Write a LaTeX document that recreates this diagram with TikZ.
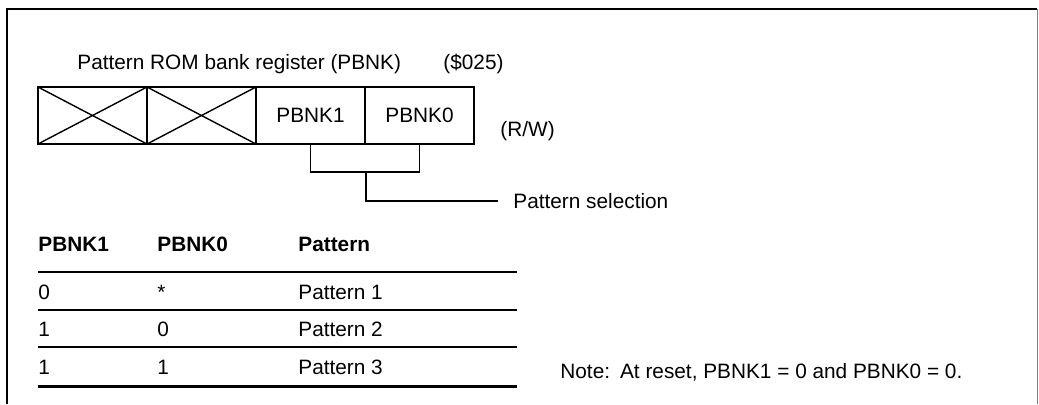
\documentclass[tikz,border=0pt]{standalone}
\usepackage{fontspec}
\setmainfont{Liberation Sans}
\tikzset{
  txt/.style={font=\fontsize{10.4}{12.5}\selectfont, inner sep=0pt},
  hdr/.style={txt, font=\fontsize{10.4}{12.5}\selectfont\bfseries},
  regcell/.style={draw, line width=1.2pt, outer sep=0pt, inner sep=0pt,
    minimum width=54.5pt, minimum height=28.5pt, txt},
  rule/.style={line width=1pt}
}
\begin{document}
\begin{tikzpicture}[x=0.5pt, y=-0.5pt]
      \useasboundingbox (0,0) rectangle (1039,404);
      % frame
      \draw[line width=1pt] (7,404) -- (7,9) -- (1037,9);
      \draw[gray, line width=0.5pt] (1037,9) -- (1037,404);
      % register
      \node[txt, anchor=base west] (title) at (77,69) {Pattern ROM bank register (PBNK)};
      \node[txt, anchor=base west] (addr) at (443,69) {(\$025)};
      \foreach[count=\i from 0] \lab in {{},{},PBNK1,PBNK0}{
        \node[regcell] (c\i) at (92.5+109*\i,115.5) {\lab};
      }
      \foreach \i in {0,1}{
        \draw[line width=0.7pt] (c\i.north west) -- (c\i.south east)
          (c\i.south west) -- (c\i.north east);
      }
      \node[txt, anchor=base west] (rw) at (500,136) {(R/W)};
      % selection bracket
      \coordinate (brk) at (366,172);
      \node[txt, anchor=west, inner xsep=7.5pt] (sel) at (498,201) {Pattern selection};
      \draw[line width=0.8pt] (c2.south) |- (brk) -| (c3.south);
      \draw[line width=0.8pt] (brk) |- (sel.west);
      % table
      \foreach \x/\t [count=\j] in {38/PBNK1,157/PBNK0,298/Pattern}{
        \node[hdr, anchor=base west] (h\j) at (\x,251) {\t};
      }
      \foreach \yy/\a/\b/\c [count=\r] in {299/0/*/Pattern 1,336/1/0/Pattern 2,374/1/1/Pattern 3}{
        \node[txt, anchor=base west] (r\r a) at (38,\yy) {\a};
        \node[txt, anchor=base west] (r\r b) at (157,\yy) {\b};
        \node[txt, anchor=base west] (r\r c) at (298,\yy) {\c};
      }
      \foreach \yy in {272,310,347}{
        \draw[rule] (38,\yy) -- (517,\yy);
      }
      \draw[line width=1.5pt] (38,386) -- (517,386);
      % note
      \node[txt, anchor=base west] (note) at (560,378)
        {Note:\hspace{5pt}At reset, PBNK1 = 0 and PBNK0 = 0.};
    \end{tikzpicture}
\end{document}
